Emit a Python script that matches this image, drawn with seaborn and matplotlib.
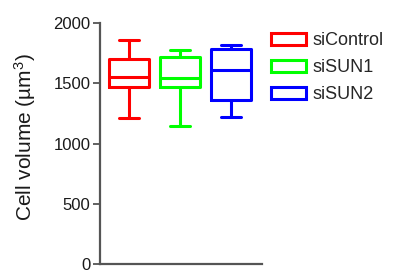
import matplotlib
matplotlib.use("Agg")
import matplotlib.pyplot as plt
from matplotlib.patches import Patch
import seaborn as sns
import pandas as pd

# Five-number summaries (min, Q1, median, Q3, max)
groups = ["siControl", "siSUN1", "siSUN2"]
siControl = [1213, 1472, 1553, 1703, 1855]
siSUN1 = [1142, 1472, 1544, 1714, 1772]
siSUN2 = [1222, 1358, 1606, 1783, 1817]
colors = ["#FF0000", "#00FF00", "#0000FF"]
yticks = [0, 500, 1000, 1500, 2000]

sns.set_style("white")
plt.rcParams["font.family"] = ["Liberation Sans", "DejaVu Sans"]
plt.rcParams["mathtext.fontset"] = "custom"
plt.rcParams["mathtext.rm"] = "Liberation Sans"
plt.rcParams["mathtext.it"] = "Liberation Sans:italic"

rows = []
for g, vals in zip(groups, [siControl, siSUN1, siSUN2]):
    for v in vals:
        rows.append({"group": g, "volume": v})
df = pd.DataFrame(rows)

fig = plt.figure(figsize=(3.97, 2.80), dpi=100)
ax = fig.add_axes([0.252, 0.057, 0.408, 0.861])

sns.boxplot(data=df, x="group", y="volume", hue="group", order=groups,
            hue_order=groups, palette=colors, fill=False, whis=(0, 100),
            linewidth=2.2, width=0.8, legend=False, ax=ax)

ax.set_ylim(0, 2000)
ax.set_xlim(-0.57, 2.61)
ax.set_yticks(yticks)
ax.set_yticklabels([str(t) for t in yticks])
ax.set_xticks([])
ax.set_xlabel("")
ax.set_ylabel("Cell volume (µm$^3$)", fontsize=15, color="#1a1a1a")
ax.yaxis.set_label_coords(-0.385, 0.525)

for side in ["top", "right"]:
    ax.spines[side].set_visible(False)
for side in ["left", "bottom"]:
    ax.spines[side].set_color("#555555")
    ax.spines[side].set_linewidth(1.6)
ax.tick_params(axis="y", length=5, width=1.3, color="#555555",
               labelsize=12, labelcolor="#1a1a1a", pad=2, left=True)

handles = [Patch(facecolor="white", edgecolor=c, linewidth=2.2, label=g)
           for g, c in zip(groups, colors)]
fig.legend(handles=handles, loc="upper left", bbox_to_anchor=(0.683, 0.885),
           frameon=False, fontsize=13, handlelength=1.95, handleheight=0.65,
           handletextpad=0.35, labelspacing=0.56, borderaxespad=0,
           borderpad=0)

fig.savefig("out.png", dpi=100)
